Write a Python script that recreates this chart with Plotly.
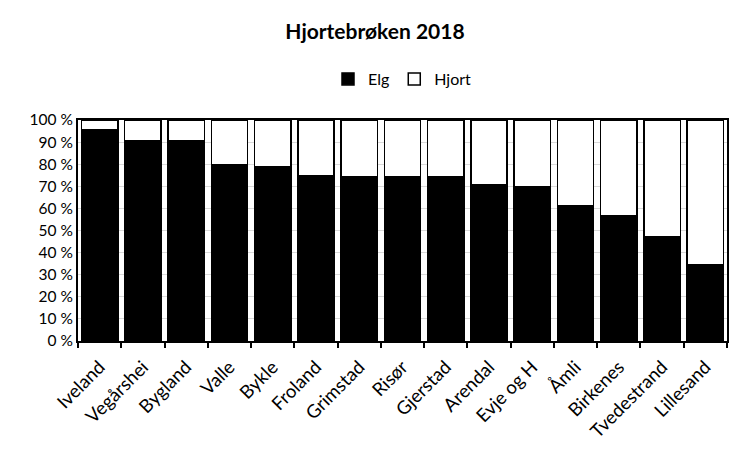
import plotly.graph_objects as go

kommuner = ["Iveland", "Vegårshei", "Bygland", "Valle", "Bykle", "Froland", "Grimstad",
            "Risør", "Gjerstad", "Arendal", "Evje og H", "Åmli", "Birkenes", "Tvedestrand", "Lillesand"]
elg = [95.5, 90.5, 90.5, 79.6, 78.7, 74.6, 74.2, 74.2, 74.2, 70.5, 69.6, 61.0, 56.9, 47.0, 34.3]
hjort = [round(100 - v, 1) for v in elg]

font = "Lato, Open Sans, sans-serif"

fig = go.Figure()
fig.add_trace(go.Bar(x=kommuner, y=elg, name="Elg",
                     marker=dict(color="black", line=dict(color="black", width=1.5))))
fig.add_trace(go.Bar(x=kommuner, y=hjort, name="Hjort",
                     marker=dict(color="white", line=dict(color="black", width=1.5))))

fig.update_layout(
    barmode="stack",
    bargap=0.16,
    width=750, height=450,
    margin=dict(l=78, r=23, t=120, b=109),
    paper_bgcolor="white", plot_bgcolor="white",
    font=dict(family=font, size=14, color="black"),
    title=dict(text="<b>Hjortebrøken 2018</b>", x=0.5, xanchor="center",
               y=1 - 32 / 450, yanchor="middle", font=dict(size=21, family=font)),
    legend=dict(orientation="h", x=0.5, xanchor="center", y=(341 - 79) / 221, yanchor="middle",
                font=dict(size=16), itemwidth=30, traceorder="normal"),
    xaxis=dict(tickangle=-45, tickson="boundaries", ticks="outside", ticklen=5,
               tickcolor="black", tickwidth=2, showline=True, linecolor="black", linewidth=2,
               mirror=True, tickfont=dict(size=18.5), ticklabelshift=0, ticklabelstandoff=6,
               automargin=False),
    yaxis=dict(range=[0, 100], dtick=10, ticksuffix=" %", showgrid=True,
               gridcolor="#d9d9d9", gridwidth=1, showline=True, linecolor="black",
               linewidth=2, mirror=True, ticks="", tickfont=dict(size=15.5), automargin=False),
)

fig.write_html("out.html")
